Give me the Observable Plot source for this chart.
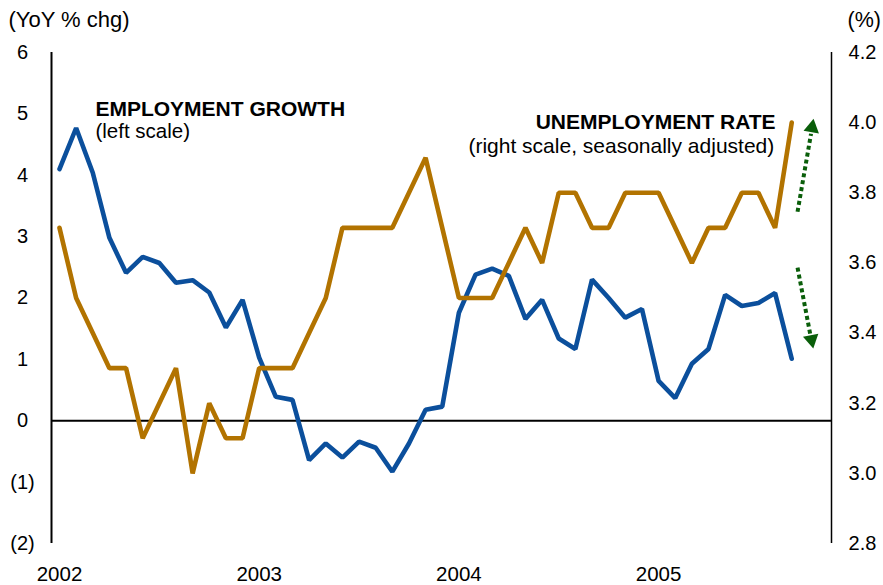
<!DOCTYPE html>
<html><head><meta charset="utf-8">
<script src="https://cdn.jsdelivr.net/npm/d3@7"></script>
<script src="https://cdn.jsdelivr.net/npm/@observablehq/plot@0.6"></script>
<style>body{margin:0;background:#fff}</style>
</head><body><div id="chart"></div>
<script>
// Monthly data, Jan 2002 .. Sep 2005 (month index 0 = Jan 2002)
const startYear = 2002;
const employmentGrowth = [
  4.10, 4.77, 4.04, 2.98, 2.41, 2.67, 2.57, 2.25, 2.29, 2.09, 1.52, 1.97,
  1.03, 0.39, 0.34, -0.64, -0.37, -0.60, -0.34, -0.44, -0.83, -0.37, 0.18, 0.23,
  1.76, 2.38, 2.48, 2.36, 1.66, 1.97, 1.34, 1.17, 2.30, 2.00, 1.68, 1.82,
  0.65, 0.37, 0.93, 1.17, 2.05, 1.87, 1.92, 2.08, 1.01
];
const unemploymentRate = [
  3.7, 3.5, 3.4, 3.3, 3.3, 3.1, 3.2, 3.3, 3.0, 3.2, 3.1, 3.1,
  3.3, 3.3, 3.3, 3.4, 3.5, 3.7, 3.7, 3.7, 3.7, 3.8, 3.9, 3.7,
  3.5, 3.5, 3.5, 3.6, 3.7, 3.6, 3.8, 3.8, 3.7, 3.7, 3.8, 3.8,
  3.8, 3.7, 3.6, 3.7, 3.7, 3.8, 3.8, 3.7, 4.0
];
const yearLabels = ["2002", "2003", "2004", "2005"];
const leftTicks = [-2, -1, 0, 1, 2, 3, 4, 5, 6];
const rightTicks = [2.8, 3.0, 3.2, 3.4, 3.6, 3.8, 4.0, 4.2];
const leftDomain = [-2, 6];
const rightDomain = [2.8, 4.2];
const xDomain = [-0.48, 46.39];

// annotation arrows (month index, left-scale units)
const arrowLines = [
  {x1: 44.35, y1: 3.405, x2: 45.16, y2: 4.676},
  {x1: 44.35, y1: 2.493, x2: 45.13, y2: 1.385}
];
const arrowHeads = [
  {x: 45.22, y: 4.774, rot: 9.8},
  {x: 45.19, y: 1.320, rot: 168.8}
];

const toLeft = u => leftDomain[0] + (u - rightDomain[0]) / (rightDomain[1] - rightDomain[0]) * (leftDomain[1] - leftDomain[0]);
const fromLeft = v => rightDomain[0] + (v - leftDomain[0]) / (leftDomain[1] - leftDomain[0]) * (rightDomain[1] - rightDomain[0]);

const rows = employmentGrowth.map((e, i) => ({m: i, emp: e, unemp: toLeft(unemploymentRate[i])}));

const blue = "#0b4f9c";
const gold = "#b27300";
const green = "#0a5e0a";
const font = "'Liberation Sans', Arial, sans-serif";

const chart = Plot.plot({
  width: 883,
  height: 585,
  marginLeft: 51,
  marginRight: 52,
  marginTop: 52,
  marginBottom: 42,
  style: {fontFamily: font, fontSize: "20px", background: "white", color: "black", overflow: "visible"},
  x: {domain: xDomain},
  y: {domain: leftDomain},
  marks: [
    Plot.ruleY([0], {stroke: "black", strokeWidth: 2}),
    Plot.ruleX([xDomain[0]], {y1: leftDomain[0], y2: leftDomain[1], stroke: "black", strokeWidth: 2}),
    Plot.ruleX([xDomain[1]], {y1: leftDomain[0], y2: leftDomain[1], stroke: "black", strokeWidth: 1.5}),
    Plot.axisY(leftTicks, {anchor: "left", tickSize: 0, tickPadding: 29, textAnchor: "middle",
      tickFormat: d => d < 0 ? `(${-d})` : `${d}`, fontSize: 20, label: null}),
    Plot.axisY(rightTicks.map(toLeft), {anchor: "right", tickSize: 0, tickPadding: 31, textAnchor: "middle",
      tickFormat: v => fromLeft(v).toFixed(1), fontSize: 20, label: null}),
    Plot.axisX(yearLabels.map((_, i) => i * 12), {anchor: "bottom", tickSize: 0, tickPadding: 23,
      tickFormat: m => String(startYear + Math.round(m / 12)), fontSize: 20.5, label: null}),
    Plot.line(rows, {x: "m", y: "emp", stroke: blue, strokeWidth: 4.6, strokeLinejoin: "miter"}),
    Plot.line(rows, {x: "m", y: "unemp", stroke: gold, strokeWidth: 4.6, strokeLinejoin: "miter"}),
    Plot.link(arrowLines, {x1: "x1", y1: "y1", x2: "x2", y2: "y2", stroke: green, strokeWidth: 4, strokeDasharray: "4,3"}),
    Plot.dot(arrowHeads, {x: "x", y: "y", rotate: "rot", symbol: "triangle", r: 5.8, fill: green, stroke: "none"}),
    Plot.text(["(YoY % chg)"], {frameAnchor: "top-left", dx: -43, dy: -26, textAnchor: "start", lineAnchor: "bottom", fontSize: 22}),
    Plot.text(["(%)"], {frameAnchor: "top-right", dx: 16, dy: -26, textAnchor: "start", lineAnchor: "bottom", fontSize: 21.5}),
    Plot.text(["EMPLOYMENT GROWTH"], {x: 2.16, y: 4.97, textAnchor: "start", lineAnchor: "bottom", fontSize: 21, fontWeight: "bold"}),
    Plot.text(["(left scale)"], {x: 2.16, y: 4.60, textAnchor: "start", lineAnchor: "bottom", fontSize: 20.5}),
    Plot.text(["UNEMPLOYMENT RATE"], {x: 43.03, y: 4.76, textAnchor: "end", lineAnchor: "bottom", fontSize: 21, fontWeight: "bold"}),
    Plot.text(["(right scale, seasonally adjusted)"], {x: 42.95, y: 4.37, textAnchor: "end", lineAnchor: "bottom", fontSize: 21})
  ]
});
document.getElementById("chart").append(chart);
</script>
</body></html>
